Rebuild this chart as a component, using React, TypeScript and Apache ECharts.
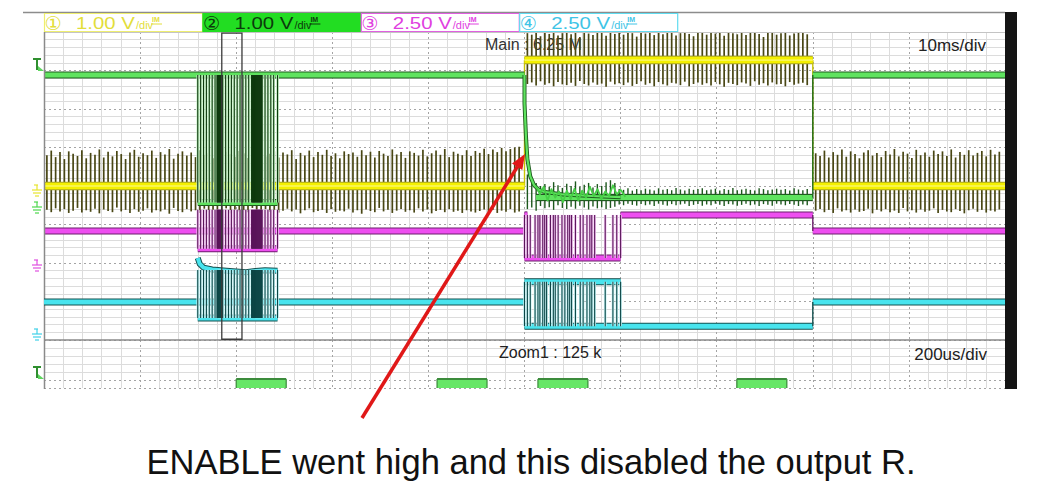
import React, { useEffect, useRef } from "react";
import * as echarts from "echarts";

// ---------- labels ----------
const CHANNEL_NAMES = ["①", "②", "③", "④"];
const CHANNEL_SCALES = ["1.00 V", "1.00 V", "2.50 V", "2.50 V"];
const MAIN_LABEL = "Main : 6.25 M";
const MAIN_TIMEBASE = "10ms/div";
const ZOOM_LABEL = "Zoom1 : 125 k";
const ZOOM_TIMEBASE = "200us/div";
const CAPTION = "ENABLE went high and this disabled the output R.";

// ---------- axes (divisions) ----------
const X_RANGE = [0, 10];
const Y_RANGE = [0, 8];
const ZOOM_Y_RANGE = [0, 1.2];

// ---------- channel 1 (yellow) pulse train: spike tops / bottoms in 1/100 div from the level ----------
const OLIVE_PERIOD = 0.0455;
const OLIVE_A_START = 0.03;
const OLIVE_A_TOP = [80,92,75,88,70,90,84,78,93,72,86,81,95,74,89,77,91,83,70,87,94,76,85,80,92,73,88,82,96,71,84,90,79,87,75,93,81,86,72,94,
78,89,83,76,91,85,73,88,80,95,77,84,90,74,87,82,93,70,86,79,92,75,88,81,94,78,85,72,90,83,
87,76,93,80,89,74,91,84,78,95,82,88,73,90,86,79,94,77,85,92,81,96,75,89,84,80,93,78,91,86,
97,83,95,88,99,90,96,100,102];
const OLIVE_A_BOT = [62,68,58,66,60,70,64,57,69,63,67,59,71,61,65,68,56,66,62,70,60,67,64,58,69,63,66,61,72,57,
65,68,60,66,63,70,59,67,62,69,64,58,71,61,66,63,68,57,65,70,60,67,62,69,64,59,66,61,71,63,
58,68,65,62,70,60,67,64,66,59,69,63,72,61,65,68,57,66,62,70,64,60,67,63,69,58,66,61,71,65,
62,68,60,67,64,70,63,66,69,65,61,68,62,70,64,67,60,69,66];
const OLIVE_B_START = 5.03;
const OLIVE_B_TOP = [70,66,73,62,71,68,73,64,70,73,67,72,60,73,69,65,73,71,63,73,68,72,66,73,70,61,73,69,72,65,
73,67,71,73,64,70,73,68,62,73,71,66,73,69,72,63,73,70,67,73,65,71,73,68,60,72,73,66,70,73,64,69,73,71,67];
const OLIVE_B_BOT = [62,58,66,55,64,60,68,57,63,65,59,67,54,62,66,58,64,61,69,56,63,60,65,58,67,62,55,64,60,68,
57,63,66,59,61,65,56,68,62,58,64,60,66,57,63,69,59,62,65,58,61,67,55,64,60,66,58,63,62,68,57,64,61,59,65];
const OLIVE_C_START = 8.03;
const OLIVE_C_TOP = [85,78,92,74,88,81,95,76,90,83,72,87,93,79,86,75,91,82,96,77,89,84,73,94,80,87,76,92,83,90,
78,95,74,88,81,93,79,86,91,77,94,82,89];
const OLIVE_C_BOT = [64,60,68,62,70,58,66,63,69,61,67,65,59,71,62,66,60,68,64,70,57,66,63,69,61,67,64,58,70,62,
66,68,60,65,71,63,59,67,62,69,64,66,61];

// yellow level [x1, x2, y] and transitions [x, y1, y2]
const YELLOW_BANDS = [[0, 5.0, 4.0], [5.0, 8.0, 7.27], [8.0, 10, 4.0]];
const YELLOW_STEPS = [[5.0, 4.0, 7.27], [8.0, 4.0, 7.27]];

// ---------- channel 2 (green) ----------
const GREEN_BANDS = [[0, 5.0, 6.88], [8.0, 10, 6.88], [1.6, 2.43, 3.57], [5.12, 8.0, 3.7]];
const GREEN_STEPS = [[8.0, 3.7, 6.88], [1.6, 3.57, 6.88], [2.43, 3.57, 6.88]];
const GREEN_BURST_SPAN = [3.57, 6.88];
const BURST1_EDGES = [1.6,1.63,1.66,1.69,1.72,1.75,1.78,1.8,1.805,1.81,1.815,1.82,1.825,1.83,1.835,1.84,1.845,1.85,1.855,1.86,
1.89,1.92,1.95,1.98,2.01,2.04,2.07,2.1,2.13,2.16,2.165,2.17,2.175,2.18,2.185,2.19,2.195,2.2,2.205,2.21,2.215,2.22,2.225,2.23,
2.235,2.24,2.245,2.25,2.255,2.26,2.265,2.27,2.3,2.33,2.36,2.39,2.43];
const GREEN_DECAY = [[5.0, 6.88], [5.0, 6.15], [5.015, 5.3], [5.03, 4.7], [5.06, 4.25], [5.1, 4.02], [5.15, 3.9], [5.2, 3.85], [5.4, 3.78], [5.7, 3.74], [6.0, 3.71]];
const GREEN_NOISE = [[5.12,4.0],[5.16,3.78],[5.2,3.98],[5.24,3.62],[5.28,3.92],[5.32,3.7],[5.36,3.86],[5.4,3.58],[5.44,3.88],[5.48,3.66],[5.52,3.93],
[5.56,3.62],[5.6,3.88],[5.64,3.7],[5.68,3.98],[5.72,3.74],[5.76,3.92],[5.8,3.66],[5.84,3.86],[5.88,3.74],[5.92,4.02],[5.96,3.78],[6.0,3.9],[6.05,3.72]];
const GREEN_RIPPLE_TOP = [60,45,38,30,35,28,40,32,25,36,30,42,28,33,38,26,35,30,40,45,38,22,20,24,18,22,19,23,21,18,
24,20,22,19,25,21,18,23,20,22,24,19,21,23,18,22,20,25,19,21,23,20,18,24,22,19,21,23,20,22,18,24,21,19,22];
const GREEN_RIPPLE_BOT = [30,26,34,22,28,25,32,20,27,30,24,29,21,26,31,23,28,25,30,27,24,18,20,16,19,21,17,20,18,22,
16,19,21,17,20,18,16,22,19,17,21,18,20,16,19,22,17,18,21,19,16,20,18,22,17,19,21,16,18,20,17,19,22,18,20];

// ---------- channel 3 (magenta) ----------
const MAGENTA_BANDS = [[0, 5.0, 2.83], [8.0, 10, 2.83], [1.6, 2.43, 2.37], [5.0, 6.0, 2.13], [6.0, 8.0, 3.25], [5.0, 5.03, 3.25]];
const MAGENTA_STEPS = [[8.0, 2.83, 3.25]];
const MAGENTA_BURST1_SPAN = [2.37, 3.38];
const MAGENTA_BURST2_SPAN = [2.13, 3.25];
const BURST2_EDGES = [5.0,5.03,5.06,5.11,5.14,5.16,5.19,5.21,5.23,5.27,5.3,5.32,5.35,5.39,5.42,5.45,5.47,5.49,5.53,5.58,5.61,5.65,5.68,5.7,5.73,5.84,5.92,5.96,6.0];

// ---------- channel 4 (cyan) ----------
const CYAN_BANDS = [[0, 5.0, 0.99], [8.0, 10, 0.99], [1.6, 2.43, 0.57], [5.0, 6.0, 1.51], [5.0, 8.0, 0.36]];
const CYAN_STEPS = [[8.0, 0.36, 0.99]];
const CYAN_BURST1_TOP = [[1.6, 2.13], [1.62, 1.98], [1.66, 1.88], [1.75, 1.83], [1.9, 1.8], [2.1, 1.76], [2.2, 1.79], [2.3, 1.81], [2.43, 1.8]];
const CYAN_BURST1_SPAN = [0.57, 1.82];
const CYAN_BURST2_SPAN = [0.36, 1.51];

// ---------- zoom window ----------
const ZOOM_WINDOW = [1.85, 2.06];
const ZOOM_PULSES = [[2.0, 2.52], [4.09, 4.61], [5.14, 5.66], [7.21, 7.73]];
const ZOOM_PULSE_LEVEL = 1.075;

// ---------- helpers ----------
const FONT = "'Liberation Sans', Arial, 'DejaVu Sans', sans-serif";

function train(start: number, base: number, tops: number[], bots: number[]) {
  return tops.map((t, i) => {
    const x = start + i * OLIVE_PERIOD;
    return [x, base + t / 100, x, base - bots[i] / 100];
  });
}
function bands(list: number[][]) {
  return list.map(([x1, x2, y]) => [x1, y, x2, y]);
}
function steps(list: number[][]) {
  return list.map(([x, y1, y2]) => [x, y1, x, y2]);
}
function edges(list: number[], span: number[]) {
  return list.map((x) => [x, span[0], x, span[1]]);
}
function seg(grid: number, data: number[][], color: string, width: number, z: number) {
  return {
    type: "custom",
    xAxisIndex: grid,
    yAxisIndex: grid,
    clip: true,
    silent: true,
    z,
    data,
    renderItem: (_p: any, api: any) => {
      const a = api.coord([api.value(0), api.value(1)]);
      const b = api.coord([api.value(2), api.value(3)]);
      return {
        type: "line",
        shape: { x1: a[0], y1: a[1], x2: b[0], y2: b[1] },
        style: { stroke: color, lineWidth: width, lineCap: "butt" },
      };
    },
  };
}
function poly(grid: number, data: number[][], color: string, width: number, z: number) {
  return {
    type: "line",
    xAxisIndex: grid,
    yAxisIndex: grid,
    data,
    symbol: "none",
    showSymbol: false,
    silent: true,
    clip: true,
    z,
    lineStyle: { color, width, join: "round" },
  };
}
function xAxis(gi: number) {
  return {
    type: "value",
    gridIndex: gi,
    min: X_RANGE[0],
    max: X_RANGE[1],
    interval: 1,
    axisLine: { show: false },
    axisTick: { show: false },
    axisLabel: { show: false },
    splitLine: { show: true, lineStyle: { color: "#a4a4a4", width: 1, type: [2, 3] } },
    minorTick: { show: false, splitNumber: 5 },
    minorSplitLine: { show: true, lineStyle: { color: "#dcdcdc", width: 1 } },
  };
}
function yAxis(gi: number, range: number[], inverse: boolean) {
  return {
    type: "value",
    gridIndex: gi,
    min: range[0],
    max: range[1],
    interval: 1,
    inverse,
    axisLine: { show: false },
    axisTick: { show: false },
    axisLabel: { show: false },
    splitLine: { show: true, lineStyle: { color: "#a4a4a4", width: 1, type: [2, 3] } },
    minorTick: { show: false, splitNumber: 5 },
    minorSplitLine: { show: true, lineStyle: { color: "#dcdcdc", width: 1 } },
  };
}

function ground(yTop: number, color: string) {
  const s = { stroke: color, lineWidth: 1.2 };
  return {
    type: "group",
    z: 10,
    children: [
      { type: "line", shape: { x1: 34, y1: yTop, x2: 38, y2: yTop }, style: s },
      { type: "line", shape: { x1: 37, y1: yTop, x2: 37, y2: yTop + 5 }, style: s },
      { type: "line", shape: { x1: 32, y1: yTop + 5, x2: 42, y2: yTop + 5 }, style: s },
      { type: "line", shape: { x1: 33, y1: yTop + 8, x2: 41, y2: yTop + 8 }, style: s },
      { type: "line", shape: { x1: 35, y1: yTop + 11, x2: 39, y2: yTop + 11 }, style: s },
    ],
  };
}
function trigger(yTop: number) {
  return {
    type: "group",
    z: 10,
    children: [
      { type: "line", shape: { x1: 33, y1: yTop, x2: 41, y2: yTop }, style: { stroke: "#2f8f2f", lineWidth: 2 } },
      { type: "line", shape: { x1: 37, y1: yTop, x2: 37, y2: yTop + 11 }, style: { stroke: "#2f8f2f", lineWidth: 2 } },
      { type: "polygon", shape: { points: [[38, yTop + 12], [44, yTop + 12], [38, yTop + 7]] }, style: { fill: "#5fd65f" } },
    ],
  };
}

function header() {
  const borders = ["#eeee70", "#22dd22", "#e060e0", "#60dcf0"];
  const fills = ["#ffffff", "#22dd22", "#ffffff", "#ffffff"];
  const colors = ["#e2de3a", "#0c3a0c", "#e040e0", "#3ec4e6"];
  const out: any[] = [];
  CHANNEL_SCALES.forEach((v, i) => {
    const x0 = 44 + i * 158.4;
    out.push({ type: "rect", z: 10, shape: { x: x0 + 0.5, y: 13.5, width: 158, height: 18 }, style: { fill: fills[i], stroke: borders[i], lineWidth: 1.2 } });
    out.push({ type: "text", z: 11, x: x0 + 9, y: 23, style: { text: CHANNEL_NAMES[i], fontSize: 19, fontFamily: "'DejaVu Sans', sans-serif", fill: colors[i], textAlign: "center", textVerticalAlign: "middle" } });
    out.push({ type: "text", z: 11, x: x0 + 32, y: 23, scaleX: 1.2, style: { text: v, fontSize: 17, fontFamily: FONT, fill: colors[i], textAlign: "left", textVerticalAlign: "middle" } });
    out.push({ type: "text", z: 11, x: x0 + 92, y: 25, scaleX: 1.1, style: { text: "/div", fontSize: 10, fontFamily: FONT, fill: colors[i], textAlign: "left", textVerticalAlign: "middle" } });
    out.push({ type: "text", z: 11, x: x0 + 108, y: 19, style: { text: "IM", fontSize: 7, fontWeight: "bold", fontFamily: FONT, fill: colors[i], textAlign: "left", textVerticalAlign: "middle" } });
    out.push({ type: "line", z: 11, shape: { x1: x0 + 107, y1: 24, x2: x0 + 118, y2: 24 }, style: { stroke: colors[i], lineWidth: 1 } });
  });
  return out;
}

function buildOption() {
  const series: any[] = [];
  // channel 1 spikes and level
  series.push(seg(0, [
    ...train(OLIVE_A_START, YELLOW_BANDS[0][2], OLIVE_A_TOP, OLIVE_A_BOT),
    ...train(OLIVE_B_START, YELLOW_BANDS[1][2], OLIVE_B_TOP, OLIVE_B_BOT),
    ...train(OLIVE_C_START, YELLOW_BANDS[2][2], OLIVE_C_TOP, OLIVE_C_BOT),
  ], "#494714", 1.7, 2));
  series.push(seg(0, steps(YELLOW_STEPS), "#c8c400", 1.4, 3));
  series.push(seg(0, bands(YELLOW_BANDS), "#aaa624", 8.5, 3));
  series.push(seg(0, bands(YELLOW_BANDS), "#f4f000", 6.5, 3));
  series.push(seg(0, bands(YELLOW_BANDS), "rgba(255,252,190,0.8)", 1, 3));

  // channel 2 green
  series.push(seg(0, train(OLIVE_B_START, GREEN_BANDS[3][2], GREEN_RIPPLE_TOP, GREEN_RIPPLE_BOT), "#1d581d", 1.4, 4));
  series.push(seg(0, bands(GREEN_BANDS), "#1f5c1f", 7, 4));
  series.push(seg(0, bands(GREEN_BANDS), "#5fe35f", 5, 5));
  series.push(seg(0, steps(GREEN_STEPS), "#1d6a1d", 1.4, 5));
  series.push(seg(0, edges(BURST1_EDGES, GREEN_BURST_SPAN), "#c4f2c4", 2.6, 6));
  series.push(seg(0, edges(BURST1_EDGES, GREEN_BURST_SPAN), "#0e3a0e", 1.1, 6));
  series.push(poly(0, GREEN_DECAY, "#1f5c1f", 4, 6));
  series.push(poly(0, GREEN_DECAY, "#5fe35f", 2.2, 6));
  series.push(poly(0, GREEN_NOISE, "#46cf46", 1.8, 6));

  // channel 3 magenta
  series.push(seg(0, bands(MAGENTA_BANDS), "#6b1e6b", 7, 7));
  series.push(seg(0, bands(MAGENTA_BANDS), "#ee4ef0", 5, 8));
  series.push(seg(0, steps(MAGENTA_STEPS), "#6b1e6b", 1.4, 8));
  series.push(seg(0, [...edges(BURST1_EDGES, MAGENTA_BURST1_SPAN), ...edges(BURST2_EDGES, MAGENTA_BURST2_SPAN)], "#f4c8f4", 2.6, 9));
  series.push(seg(0, [...edges(BURST1_EDGES, MAGENTA_BURST1_SPAN), ...edges(BURST2_EDGES, MAGENTA_BURST2_SPAN)], "#5a145a", 1.1, 9));

  // channel 4 cyan
  series.push(seg(0, bands(CYAN_BANDS), "#14504f", 7, 10));
  series.push(seg(0, bands(CYAN_BANDS), "#48e4ee", 5, 11));
  series.push(poly(0, CYAN_BURST1_TOP, "#14504f", 6, 11));
  series.push(poly(0, CYAN_BURST1_TOP, "#48e4ee", 4, 11));
  series.push(seg(0, steps(CYAN_STEPS), "#14504f", 1.4, 11));
  series.push(seg(0, [...edges(BURST1_EDGES, CYAN_BURST1_SPAN), ...edges(BURST2_EDGES, CYAN_BURST2_SPAN)], "#c8f4f6", 2.6, 12));
  series.push(seg(0, [...edges(BURST1_EDGES, CYAN_BURST1_SPAN), ...edges(BURST2_EDGES, CYAN_BURST2_SPAN)], "#0c4646", 1.1, 12));

  // zoom window box
  series.push({
    type: "custom",
    xAxisIndex: 0,
    yAxisIndex: 0,
    silent: true,
    z: 14,
    data: [[ZOOM_WINDOW[0], Y_RANGE[0] + 0.02, ZOOM_WINDOW[1], Y_RANGE[1] - 0.03]],
    renderItem: (_p: any, api: any) => {
      const a = api.coord([api.value(0), api.value(1)]);
      const b = api.coord([api.value(2), api.value(3)]);
      return {
        type: "rect",
        shape: { x: a[0], y: b[1], width: b[0] - a[0], height: a[1] - b[1] },
        style: { fill: "none", stroke: "#3a3a3a", lineWidth: 1.3 },
      };
    },
  });

  // zoom area pulses
  const pulseBands = ZOOM_PULSES.map(([a, b]) => [a, b, ZOOM_PULSE_LEVEL]);
  const pulseEdges = ZOOM_PULSES.flatMap(([a, b]) => [[a, ZOOM_PULSE_LEVEL - 0.1, ZOOM_Y_RANGE[1]], [b, ZOOM_PULSE_LEVEL - 0.1, ZOOM_Y_RANGE[1]]]);
  series.push(seg(1, bands(pulseBands), "#3c8c3c", 10, 4));
  series.push(seg(1, bands(pulseBands).map((d) => [d[0], d[1] + 0.025, d[2], d[3] + 0.025]), "#68e668", 8, 5));
  series.push(seg(1, steps(pulseEdges), "#3c8c3c", 1.2, 6));

  const graphic: any[] = [
    { type: "line", z: 10, shape: { x1: 23, y1: 12.5, x2: 1005, y2: 12.5 }, style: { stroke: "#8c8c8c", lineWidth: 1.5 } },
    ...header(),
    { type: "line", z: 9, shape: { x1: 44, y1: 32.5, x2: 1005, y2: 32.5 }, style: { stroke: "#c4c4c4", lineWidth: 1 } },
    { type: "line", z: 9, shape: { x1: 44.5, y1: 32, x2: 44.5, y2: 389 }, style: { stroke: "#8a8a8a", lineWidth: 1.5 } },
    { type: "line", z: 9, shape: { x1: 44, y1: 340, x2: 1005, y2: 340 }, style: { stroke: "#8a8a8a", lineWidth: 1.6 } },
    { type: "rect", z: 10, shape: { x: 1005, y: 12, width: 12, height: 377 }, style: { fill: "#141414" } },
    { type: "text", z: 1, x: 485, y: 44, style: { text: MAIN_LABEL, fontSize: 16, fontFamily: FONT, fill: "#333", textAlign: "left", textVerticalAlign: "middle" } },
    { type: "text", z: 10, x: 986, y: 45, style: { text: MAIN_TIMEBASE, fontSize: 17, fontFamily: FONT, fill: "#222", textAlign: "right", textVerticalAlign: "middle" } },
    { type: "text", z: 10, x: 499, y: 352, style: { text: ZOOM_LABEL, fontSize: 16, fontFamily: FONT, fill: "#222", textAlign: "left", textVerticalAlign: "middle" } },
    { type: "text", z: 10, x: 987, y: 354, style: { text: ZOOM_TIMEBASE, fontSize: 17, fontFamily: FONT, fill: "#222", textAlign: "right", textVerticalAlign: "middle" } },
    trigger(59),
    trigger(367),
    ground(185, "#e8e430"),
    ground(202, "#4fd84f"),
    ground(260, "#e050e0"),
    ground(329, "#40d0e8"),
    { type: "line", z: 100, shape: { x1: 362, y1: 418, x2: 517.5, y2: 166.5 }, style: { stroke: "#e01818", lineWidth: 3.5 } },
    { type: "polygon", z: 100, shape: { points: [[525, 154], [512, 163.6], [522.3, 170]] }, style: { fill: "#e01818" } },
    { type: "text", z: 10, x: 531, y: 462, style: { text: CAPTION, fontSize: 34.5, fontFamily: FONT, fill: "#111", textAlign: "center", textVerticalAlign: "middle" } },
  ];

  return {
    animation: false,
    backgroundColor: "#ffffff",
    grid: [
      { left: 44, top: 32, width: 961, height: 308, show: false },
      { left: 44, top: 340, width: 961, height: 48, show: false },
    ],
    xAxis: [xAxis(0), xAxis(1)],
    yAxis: [yAxis(0, Y_RANGE, false), yAxis(1, ZOOM_Y_RANGE, true)],
    series,
    graphic,
  };
}

export default function App() {
  const ref = useRef<HTMLDivElement>(null);
  useEffect(() => {
    if (!ref.current) return;
    const chart = echarts.init(ref.current, undefined, { renderer: "svg" });
    chart.setOption(buildOption() as any);
    return () => chart.dispose();
  }, []);
  return <div ref={ref} style={{ position: "fixed", left: 0, top: 0, width: 1058, height: 489, background: "#fff" }} />;
}
